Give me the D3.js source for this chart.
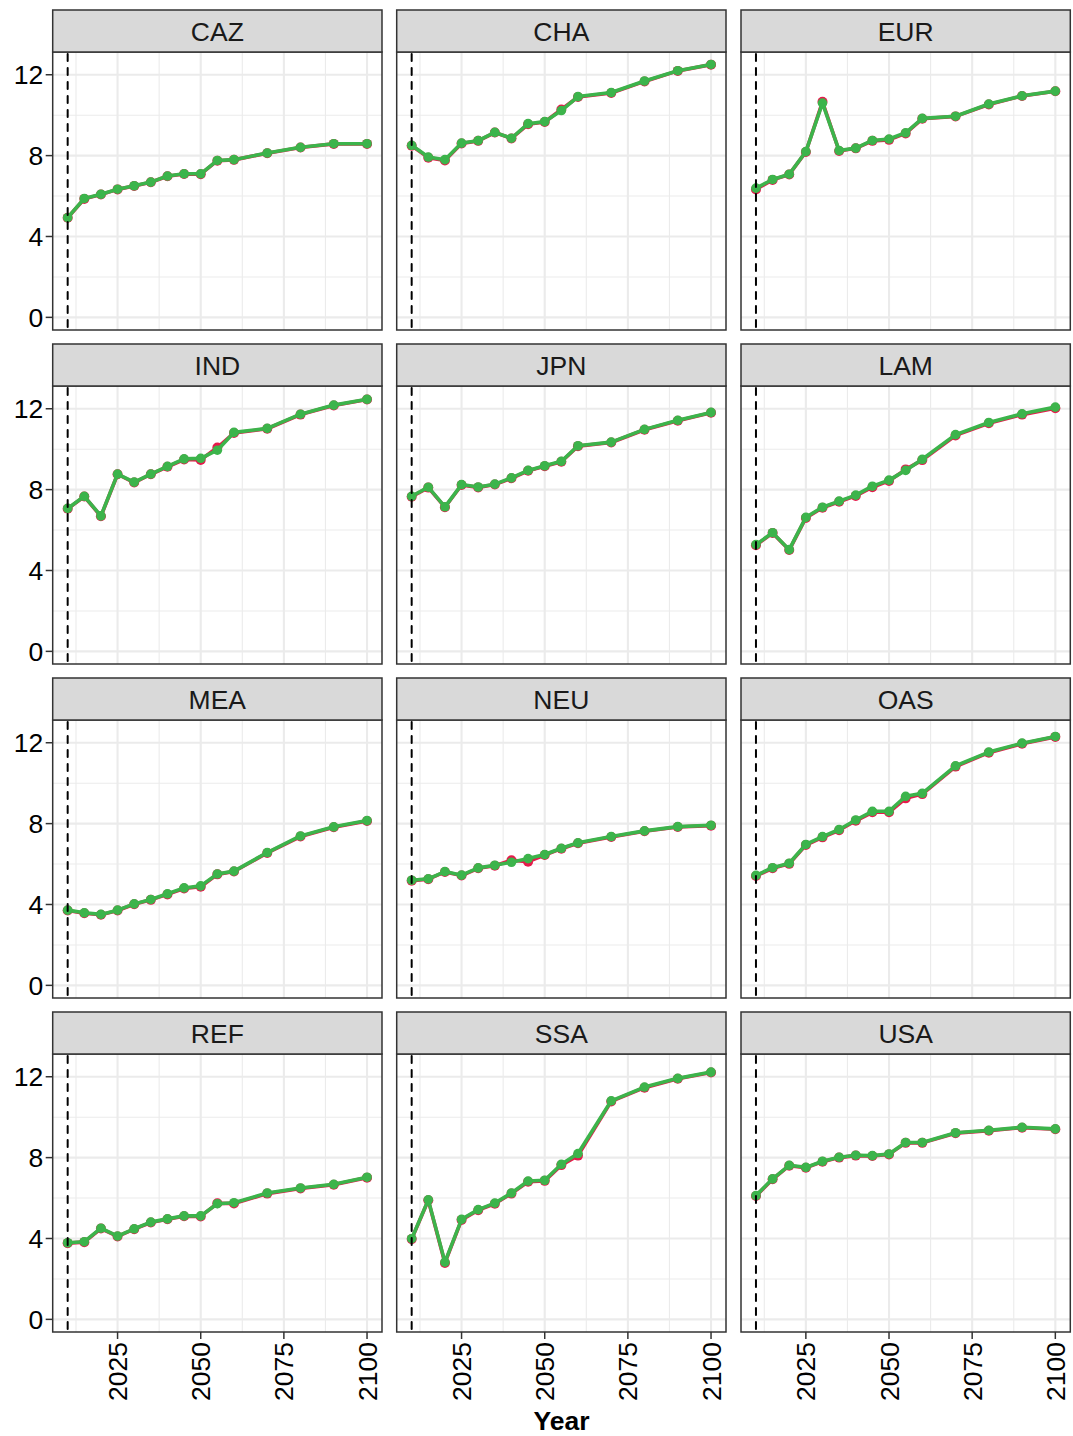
<!DOCTYPE html>
<html>
<head>
<meta charset="utf-8">
<script src="https://cdn.jsdelivr.net/npm/d3@7"></script>
<style>
  html, body { margin: 0; padding: 0; background: #ffffff; }
  svg { display: block; }
  text { font-family: "Liberation Sans", Arial, sans-serif; }
</style>
</head>
<body>
<svg id="chart" width="1073" height="1436"></svg>
<script>
// ---------------- DATA ----------------
const regions = ["CAZ", "CHA", "EUR", "IND", "JPN", "LAM", "MEA", "NEU", "OAS", "REF", "SSA", "USA"];
const years = [2010, 2015, 2020, 2025, 2030, 2035, 2040, 2045, 2050, 2055, 2060, 2070, 2080, 2090, 2100];
const xTicks = [2025, 2050, 2075, 2100];
const yTicks = [0, 4, 8, 12];
const baseYear = 2010;

// green series (drawn on top)
const seriesGreen = [
  [4.93, 5.88, 6.09, 6.34, 6.51, 6.69, 6.99, 7.10, 7.10, 7.76, 7.80, 8.13, 8.41, 8.59, 8.59],      // CAZ
  [8.51, 7.93, 7.80, 8.62, 8.74, 9.15, 8.86, 9.58, 9.68, 10.23, 10.92, 11.12, 11.69, 12.20, 12.51], // CHA
  [6.39, 6.82, 7.08, 8.20, 10.60, 8.25, 8.37, 8.75, 8.82, 9.13, 9.84, 9.95, 10.55, 10.96, 11.19],   // EUR
  [7.07, 7.67, 6.70, 8.77, 8.37, 8.77, 9.15, 9.52, 9.55, 9.95, 10.83, 11.03, 11.73, 12.18, 12.47],  // IND
  [7.67, 8.12, 7.15, 8.25, 8.13, 8.27, 8.58, 8.95, 9.18, 9.40, 10.17, 10.35, 10.98, 11.43, 11.82],  // JPN
  [5.28, 5.87, 5.03, 6.63, 7.13, 7.43, 7.73, 8.17, 8.47, 8.95, 9.50, 10.72, 11.32, 11.75, 12.08],   // LAM
  [3.72, 3.59, 3.51, 3.72, 4.03, 4.25, 4.53, 4.82, 4.92, 5.51, 5.65, 6.57, 7.39, 7.84, 8.15],       // MEA
  [5.20, 5.27, 5.63, 5.45, 5.81, 5.94, 6.09, 6.27, 6.47, 6.78, 7.05, 7.36, 7.64, 7.85, 7.92],       // NEU
  [5.44, 5.82, 6.04, 6.97, 7.36, 7.71, 8.18, 8.61, 8.61, 9.35, 9.50, 10.86, 11.54, 11.98, 12.31],   // OAS
  [3.79, 3.84, 4.51, 4.12, 4.48, 4.81, 4.97, 5.12, 5.12, 5.72, 5.77, 6.25, 6.50, 6.68, 7.03],       // REF
  [3.99, 5.91, 2.83, 4.95, 5.43, 5.75, 6.25, 6.84, 6.88, 7.67, 8.20, 10.81, 11.49, 11.92, 12.23],   // SSA
  [6.12, 6.95, 7.62, 7.52, 7.82, 8.02, 8.12, 8.10, 8.18, 8.75, 8.75, 9.23, 9.35, 9.50, 9.42]        // USA
];

// red series (drawn underneath)
const seriesRed = [
  [4.93, 5.86, 6.08, 6.33, 6.50, 6.68, 6.98, 7.09, 7.08, 7.75, 7.79, 8.12, 8.40, 8.58, 8.58],       // CAZ
  [8.49, 7.90, 7.76, 8.60, 8.73, 9.14, 8.85, 9.55, 9.66, 10.28, 10.90, 11.10, 11.67, 12.19, 12.50], // CHA
  [6.33, 6.80, 7.07, 8.18, 10.66, 8.23, 8.36, 8.73, 8.78, 9.10, 9.82, 9.94, 10.53, 10.95, 11.18],   // EUR
  [7.05, 7.66, 6.68, 8.76, 8.35, 8.76, 9.13, 9.49, 9.47, 10.08, 10.80, 11.01, 11.71, 12.16, 12.46], // IND
  [7.65, 8.10, 7.13, 8.23, 8.11, 8.25, 8.56, 8.93, 9.16, 9.38, 10.15, 10.33, 10.96, 11.41, 11.80],  // JPN
  [5.25, 5.85, 5.01, 6.60, 7.10, 7.40, 7.69, 8.12, 8.43, 9.00, 9.46, 10.68, 11.28, 11.71, 12.03],   // LAM
  [3.70, 3.57, 3.49, 3.70, 4.01, 4.23, 4.50, 4.79, 4.88, 5.49, 5.63, 6.55, 7.36, 7.82, 8.13],       // MEA
  [5.18, 5.25, 5.61, 5.43, 5.79, 5.92, 6.19, 6.12, 6.45, 6.76, 7.03, 7.34, 7.62, 7.83, 7.90],       // NEU
  [5.41, 5.79, 6.01, 6.94, 7.32, 7.67, 8.14, 8.56, 8.56, 9.25, 9.46, 10.82, 11.51, 11.95, 12.29],   // OAS
  [3.77, 3.82, 4.49, 4.10, 4.46, 4.79, 4.95, 5.10, 5.09, 5.74, 5.73, 6.22, 6.47, 6.66, 7.01],       // REF
  [3.97, 5.89, 2.79, 4.92, 5.40, 5.72, 6.22, 6.81, 6.85, 7.63, 8.10, 10.78, 11.46, 11.90, 12.21],   // SSA
  [6.10, 6.93, 7.60, 7.50, 7.80, 8.00, 8.10, 8.08, 8.16, 8.73, 8.73, 9.21, 9.33, 9.48, 9.40]        // USA
];

const xTitle = "Year";

// ---------------- LAYOUT ----------------
const svg = d3.select("#chart");
const nCols = 3;
const colLeft = [52.7, 396.7, 741];
const panelW = 329.3;
const rowTop = [10, 344, 678, 1012];
const stripH = 42;
const plotH = 278;

const GREEN = "#3cb44b";
const RED = "#e6194b";

const xScale = d3.scaleLinear().domain([2005.5, 2104.5]).range([0, panelW]);
const yScale = d3.scaleLinear().domain([-0.625, 13.125]).range([plotH, 0]);
const xMinor = [2012.5, 2037.5, 2062.5, 2087.5];
const yMinor = [2, 6, 10];

regions.forEach((reg, i) => {
  const r = Math.floor(i / nCols), c = i % nCols;
  const px = colLeft[c], py = rowTop[r] + stripH;
  const g = svg.append("g").attr("transform", `translate(${px},${py})`);

  g.append("rect").attr("width", panelW).attr("height", plotH).attr("fill", "#ffffff");

  g.selectAll(".xmin").data(xMinor).enter().append("line")
    .attr("x1", d => xScale(d)).attr("x2", d => xScale(d))
    .attr("y1", 0).attr("y2", plotH)
    .attr("stroke", "#ebebeb").attr("stroke-width", 1.1);
  g.selectAll(".ymin").data(yMinor).enter().append("line")
    .attr("y1", d => yScale(d)).attr("y2", d => yScale(d))
    .attr("x1", 0).attr("x2", panelW)
    .attr("stroke", "#ebebeb").attr("stroke-width", 1.1);
  g.selectAll(".xmaj").data(xTicks).enter().append("line")
    .attr("x1", d => xScale(d)).attr("x2", d => xScale(d))
    .attr("y1", 0).attr("y2", plotH)
    .attr("stroke", "#ebebeb").attr("stroke-width", 2.1);
  g.selectAll(".ymaj").data(yTicks).enter().append("line")
    .attr("y1", d => yScale(d)).attr("y2", d => yScale(d))
    .attr("x1", 0).attr("x2", panelW)
    .attr("stroke", "#ebebeb").attr("stroke-width", 2.1);

  const line = d3.line().x(d => xScale(d[0])).y(d => yScale(d[1]));
  const dRed = years.map((y, k) => [y, seriesRed[i][k]]);
  const dGreen = years.map((y, k) => [y, seriesGreen[i][k]]);

  g.append("path").datum(dRed).attr("d", line).attr("fill", "none")
    .attr("stroke", RED).attr("stroke-width", 3.6).attr("stroke-linejoin", "round");
  g.selectAll(".pr").data(dRed).enter().append("circle")
    .attr("cx", d => xScale(d[0])).attr("cy", d => yScale(d[1])).attr("r", 5).attr("fill", RED);
  g.append("path").datum(dGreen).attr("d", line).attr("fill", "none")
    .attr("stroke", GREEN).attr("stroke-width", 3.6).attr("stroke-linejoin", "round");
  g.selectAll(".pg").data(dGreen).enter().append("circle")
    .attr("cx", d => xScale(d[0])).attr("cy", d => yScale(d[1])).attr("r", 4.8).attr("fill", GREEN);

  g.append("line")
    .attr("x1", xScale(baseYear)).attr("x2", xScale(baseYear))
    .attr("y1", 2).attr("y2", plotH)
    .attr("stroke", "#000").attr("stroke-width", 2)
    .attr("stroke-linecap", "round")
    .attr("stroke-dasharray", "7,7");

  g.append("rect").attr("width", panelW).attr("height", plotH)
    .attr("fill", "none").attr("stroke", "#333333").attr("stroke-width", 1.5);

  const s = svg.append("g").attr("transform", `translate(${px},${rowTop[r]})`);
  s.append("rect").attr("width", panelW).attr("height", stripH)
    .attr("fill", "#d9d9d9").attr("stroke", "#333333").attr("stroke-width", 1.5);
  s.append("text").attr("x", panelW / 2).attr("y", stripH / 2).attr("dy", "0.36em")
    .attr("text-anchor", "middle").attr("font-size", 26.5).attr("fill", "#1a1a1a").text(reg);

  if (c === 0) {
    const ya = g.append("g");
    ya.selectAll("line").data(yTicks).enter().append("line")
      .attr("x1", -7).attr("x2", 0)
      .attr("y1", d => yScale(d)).attr("y2", d => yScale(d))
      .attr("stroke", "#333333").attr("stroke-width", 1.5);
    ya.selectAll("text").data(yTicks).enter().append("text")
      .attr("x", -9.5).attr("y", d => yScale(d)).attr("dy", "0.36em")
      .attr("text-anchor", "end").attr("font-size", 26.5).attr("fill", "#000")
      .text(d => d3.format("d")(d));
  }
  if (r === 3) {
    const xa = g.append("g").attr("transform", `translate(0,${plotH})`);
    xa.selectAll("line").data(xTicks).enter().append("line")
      .attr("x1", d => xScale(d)).attr("x2", d => xScale(d))
      .attr("y1", 0).attr("y2", 7)
      .attr("stroke", "#333333").attr("stroke-width", 1.5);
    xa.selectAll("text").data(xTicks).enter().append("text")
      .attr("transform", d => `translate(${xScale(d)},10) rotate(-90)`)
      .attr("dy", "0.36em")
      .attr("text-anchor", "end").attr("font-size", 26.5).attr("fill", "#000")
      .text(d => d3.format("d")(d));
  }
});

svg.append("text")
  .attr("x", (colLeft[0] + colLeft[2] + panelW) / 2).attr("y", 1430)
  .attr("text-anchor", "middle").attr("font-size", 26.5).attr("font-weight", "bold")
  .attr("fill", "#000").text(xTitle);
</script>
</body>
</html>
